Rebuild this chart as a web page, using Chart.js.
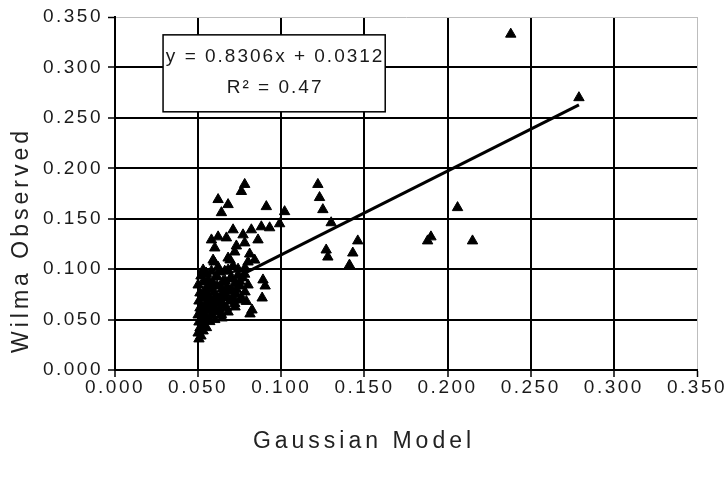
<!DOCTYPE html>
<html>
<head>
<meta charset="utf-8">
<script src="https://cdn.jsdelivr.net/npm/chart.js@4.4.1/dist/chart.umd.min.js"></script>
<style>
html,body{margin:0;padding:0;background:#fff;}
#wrap{width:724px;height:482px;}
</style>
</head>
<body>
<div id="wrap"><canvas id="c" width="724" height="482"></canvas></div>
<script>
// ---- data ----
const xTitle = "Gaussian Model";
const yTitle = "Wilma Observed";
const tickValues = [0.000, 0.050, 0.100, 0.150, 0.200, 0.250, 0.300, 0.350];
const equationText = "y = 0.8306x + 0.0312";
const r2Text = "R\u00B2 = 0.47";
const trendSlope = 0.8306;
const trendIntercept = 0.0312;

const gaussianX = [
  0.238, 0.279, 0.206, 0.215, 0.190, 0.188,
  0.122, 0.123, 0.125, 0.130, 0.127, 0.128, 0.146, 0.143, 0.141,
  0.078, 0.076, 0.062, 0.068, 0.064, 0.091, 0.102, 0.099, 0.082, 0.088,
  0.093, 0.071, 0.077, 0.062, 0.067, 0.086, 0.060, 0.072, 0.081, 0.084,
  0.059, 0.068, 0.078, 0.073, 0.058,
  0.0505, 0.0517, 0.050, 0.053, 0.0511, 0.0536, 0.0505, 0.0523, 0.0548, 0.050,
  0.053, 0.0554, 0.0511, 0.0542, 0.0566, 0.0505, 0.053, 0.056, 0.0584, 0.0511,
  0.0542, 0.0572, 0.0596, 0.050, 0.053, 0.056, 0.059, 0.0614, 0.0517, 0.0548,
  0.0608, 0.053, 0.0578, 0.0602, 0.0626, 0.059, 0.062, 0.065, 0.0608, 0.0638,
  0.0668, 0.0692, 0.0644, 0.0674, 0.0704, 0.0728, 0.0662, 0.0692, 0.0722, 0.0752,
  0.0632, 0.068, 0.074, 0.077, 0.071, 0.0782, 0.0752, 0.0722, 0.068, 0.0644,
  0.0782, 0.080, 0.089, 0.0903, 0.0885, 0.0824, 0.0812, 0.0596, 0.0692, 0.080,
  0.0614,
  0.055, 0.057, 0.060, 0.058, 0.061, 0.063, 0.066, 0.069, 0.071, 0.073,
  0.075, 0.070, 0.065, 0.067, 0.064, 0.072, 0.076, 0.079, 0.054, 0.057,
  0.055, 0.058, 0.062, 0.066, 0.074, 0.078, 0.052, 0.053
];
const wilmaY = [
  0.333, 0.270, 0.161, 0.128, 0.132, 0.128,
  0.184, 0.171, 0.159, 0.146, 0.119, 0.112, 0.128, 0.116, 0.104,
  0.184, 0.177, 0.169, 0.164, 0.156, 0.162, 0.157, 0.145, 0.139, 0.142,
  0.141, 0.139, 0.134, 0.132, 0.131, 0.129, 0.121, 0.117, 0.115, 0.109,
  0.109, 0.111, 0.126, 0.123, 0.129,
  0.0308, 0.0337, 0.0367, 0.0387, 0.0417, 0.0446, 0.0476, 0.0506, 0.0526, 0.0546,
  0.0565, 0.0595, 0.0615, 0.0645, 0.0665, 0.0684, 0.0714, 0.0734, 0.0694, 0.0764,
  0.0794, 0.0813, 0.0774, 0.0843, 0.0873, 0.0893, 0.0863, 0.0833, 0.0932, 0.0962,
  0.0932, 0.0992, 0.0546, 0.0575, 0.0605, 0.0635, 0.0665, 0.0645, 0.0724, 0.0744,
  0.0714, 0.0684, 0.0804, 0.0823, 0.0794, 0.0754, 0.0883, 0.0903, 0.0863, 0.0833,
  0.0972, 0.0992, 0.0942, 0.0913, 0.1032, 0.1012, 0.0694, 0.0625, 0.0575, 0.0516,
  0.0774, 0.0843, 0.0893, 0.0833, 0.0714, 0.0595, 0.0556, 0.1071, 0.1091, 0.1071,
  0.0923,
  0.042, 0.048, 0.050, 0.062, 0.058, 0.070, 0.076, 0.078, 0.072, 0.080,
  0.088, 0.092, 0.088, 0.062, 0.055, 0.066, 0.072, 0.068, 0.075, 0.085,
  0.095, 0.098, 0.102, 0.098, 0.100, 0.095, 0.060, 0.045
];

// ---- derived ----
const points = gaussianX.map((x, i) => ({x: x, y: wilmaY[i]}));
const xMinData = Math.min(...gaussianX);
const xMaxData = Math.max(...gaussianX);
const trendPoints = [
  {x: xMinData, y: trendSlope * xMinData + trendIntercept},
  {x: xMaxData, y: trendSlope * xMaxData + trendIntercept}
];

const FONT = "'Liberation Sans', Arial, sans-serif";

const spacingPlugin = {
  id: 'spacing',
  beforeDraw(chart) {
    const ctx = chart.ctx;
    ctx.save();
    ctx.fillStyle = '#ffffff';
    ctx.fillRect(0, 0, chart.width, chart.height);
    ctx.restore();
    ctx.letterSpacing = '2.5px';
  }
};

const decorPlugin = {
  id: 'decor',
  afterDraw(chart) {
    const ctx = chart.ctx;
    const xs = chart.scales.x, ys = chart.scales.y;
    // equation box
    const bx1 = xs.getPixelForValue(0.0289), bx2 = xs.getPixelForValue(0.1625);
    const by1 = ys.getPixelForValue(0.3323), by2 = ys.getPixelForValue(0.256);
    ctx.save();
    ctx.fillStyle = '#ffffff';
    ctx.fillRect(bx1, by1, bx2 - bx1, by2 - by1);
    ctx.strokeStyle = '#000000';
    ctx.lineWidth = 1.5;
    ctx.strokeRect(bx1, by1, bx2 - bx1, by2 - by1);
    ctx.fillStyle = '#1a1a1a';
    ctx.font = "19px " + FONT;
    ctx.letterSpacing = '2px';
    ctx.textAlign = 'center';
    ctx.textBaseline = 'middle';
    const cx = (bx1 + bx2) / 2 + 1;
    ctx.fillText(equationText, cx, by1 + 22);
    ctx.fillText(r2Text, cx, by1 + 53);
    // axis titles, centred on the canvas
    ctx.font = "23px " + FONT;
    ctx.letterSpacing = '4px';
    ctx.fillStyle = '#222';
    ctx.fillText(xTitle, chart.width / 2 + 2, 442);
    ctx.translate(22, chart.height / 2 - 1);
    ctx.rotate(-Math.PI / 2);
    ctx.fillText(yTitle, 0, 0);
    ctx.restore();
  }
};

const gridColor = (ctx) => (ctx.tick && Math.abs(ctx.tick.value - 0.35) < 1e-9) ? '#bdbdbd' : '#000000';
const gridWidth = (ctx) => (ctx.tick && Math.abs(ctx.tick.value - 0.35) < 1e-9) ? 1 : 2;

new Chart(document.getElementById('c'), {
  data: {
    datasets: [
      {
        type: 'line',
        label: 'Trend',
        data: trendPoints,
        borderColor: '#000000',
        borderWidth: 3,
        pointRadius: 0,
        fill: false,
        order: 0
      },
      {
        type: 'scatter',
        label: 'Observed',
        data: points,
        pointStyle: 'triangle',
        radius: 6,
        backgroundColor: '#000000',
        borderColor: '#000000',
        borderWidth: 1,
        order: 1
      }
    ]
  },
  options: {
    responsive: false,
    animation: false,
    devicePixelRatio: 1,
    layout: { padding: { top: 17, right: 27, left: 0, bottom: 0 } },
    plugins: { legend: { display: false }, tooltip: { enabled: false }, title: { display: false } },
    scales: {
      x: {
        type: 'linear',
        min: 0, max: 0.35,
        afterBuildTicks(scale) { scale.ticks = tickValues.map(v => ({value: v})); },
        afterFit(scale) { scale.height = 112; },
        ticks: {
          callback: v => Number(v).toFixed(3),
          color: '#1a1a1a',
          font: { family: FONT, size: 19 },
          padding: -1,
          maxRotation: 0, autoSkip: false
        },
        grid: { color: gridColor, lineWidth: gridWidth, tickColor: '#000000', tickLength: 7, tickWidth: 1.5 },
        border: { color: '#000000', width: 2 }
      },
      y: {
        type: 'linear',
        min: 0, max: 0.35,
        afterBuildTicks(scale) { scale.ticks = tickValues.map(v => ({value: v})); },
        afterFit(scale) { scale.width = 115; },
        ticks: {
          callback: v => Number(v).toFixed(3),
          color: '#1a1a1a',
          font: { family: FONT, size: 19 },
          padding: 5,
          autoSkip: false
        },
        grid: { color: gridColor, lineWidth: gridWidth, tickColor: '#000000', tickLength: 7, tickWidth: 1.5 },
        border: { color: '#000000', width: 2 }
      }
    }
  },
  plugins: [spacingPlugin, decorPlugin]
});
</script>
</body>
</html>
